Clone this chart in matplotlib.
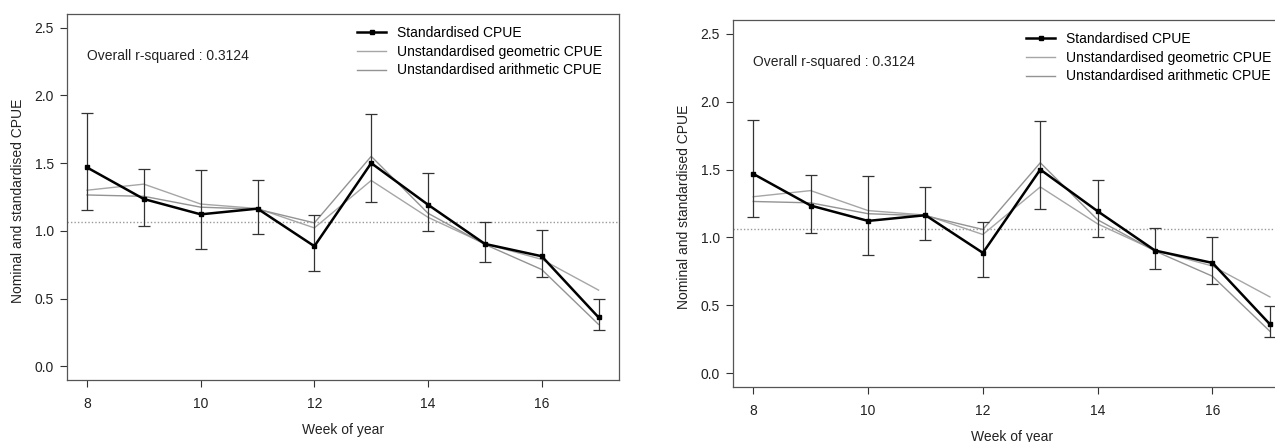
import numpy as np
import matplotlib
matplotlib.use("Agg")
import matplotlib.pyplot as plt

plt.rcParams['font.family'] = ['Liberation Sans', 'DejaVu Sans']

weeks = np.arange(8, 18)
std_cpue = [1.468, 1.235, 1.122, 1.164, 0.887, 1.500, 1.193, 0.904, 0.813, 0.362]
std_upper = [1.868, 1.460, 1.450, 1.375, 1.117, 1.860, 1.426, 1.068, 1.007, 0.495]
std_lower = [1.152, 1.034, 0.868, 0.978, 0.706, 1.213, 1.002, 0.767, 0.659, 0.267]
geo_cpue = [1.300, 1.345, 1.198, 1.165, 1.022, 1.372, 1.100, 0.905, 0.790, 0.563]
arith_cpue = [1.265, 1.255, 1.175, 1.160, 1.059, 1.550, 1.130, 0.900, 0.715, 0.310]
mean_line = 1.063
r_squared = 0.3124
x_ticks = [8, 10, 12, 14, 16]
y_ticks = [0.0, 0.5, 1.0, 1.5, 2.0, 2.5]

dark = '#333333'
fs = 10
fig = plt.figure(figsize=(12.75, 4.42), dpi=100, facecolor='white')
# second panel is the same plot, slightly bigger and cut at the right edge
ax1 = fig.add_axes([0.0522, 0.1403, 0.4333, 0.8280])
ax2 = fig.add_axes([0.5746, 0.1244, 0.4376, 0.8303])


def draw_panel(ax):
    ax.axhline(mean_line, color='#999999', lw=1.0, ls=(0, (1, 1.5)), zorder=1)
    ax.plot(weeks, geo_cpue, color='#a6a6a6', lw=1.0, zorder=2,
            label='Unstandardised geometric CPUE')
    ax.plot(weeks, arith_cpue, color='#939393', lw=1.0, zorder=2,
            label='Unstandardised arithmetic CPUE')
    err = [np.array(std_cpue) - np.array(std_lower),
           np.array(std_upper) - np.array(std_cpue)]
    ax.errorbar(weeks, std_cpue, yerr=err, fmt='none', ecolor=dark,
                elinewidth=0.9, capsize=4, capthick=0.9, zorder=3)
    ax.plot(weeks, std_cpue, color='black', lw=1.8, marker='s', ms=3.5,
            zorder=4, label='Standardised CPUE')

    ax.set_xlim(7.64, 17.36)
    ax.set_ylim(-0.1, 2.6)
    ax.set_xticks(x_ticks)
    ax.set_yticks(y_ticks)
    ax.set_yticklabels(['%.1f' % v for v in y_ticks])
    ax.tick_params(axis='both', direction='out', length=5, width=0.8,
                   colors=dark, labelsize=fs, labelcolor='#222222')
    ax.tick_params(axis='x', pad=7)
    ax.tick_params(axis='y', pad=4)
    for s in ax.spines.values():
        s.set_color('#555555')
        s.set_linewidth(0.9)

    ax.set_xlabel('Week of year', fontsize=fs, color='#222222')
    ax.set_ylabel('Nominal and standardised CPUE', fontsize=fs, color='#222222')
    ax.xaxis.set_label_coords(0.5, -0.137)
    ax.xaxis.label.set_va('center')
    ax.yaxis.set_label_coords(-0.088, 0.49)
    ax.yaxis.label.set_va('center')

    ax.text(8, 2.29, 'Overall r-squared : %.4f' % r_squared, fontsize=fs,
            color='#222222', ha='left', va='center')

    h, l = ax.get_legend_handles_labels()
    order = [2, 0, 1]
    ax.legend([h[i] for i in order], [l[i] for i in order], loc='upper left',
              bbox_to_anchor=(12.75, 2.51), bbox_transform=ax.transData,
              frameon=False, fontsize=fs, borderpad=0, borderaxespad=0,
              handlelength=2.1, handletextpad=0.8, labelspacing=0.33)


draw_panel(ax1)
draw_panel(ax2)

fig.savefig('out.png', dpi=100, facecolor='white')
